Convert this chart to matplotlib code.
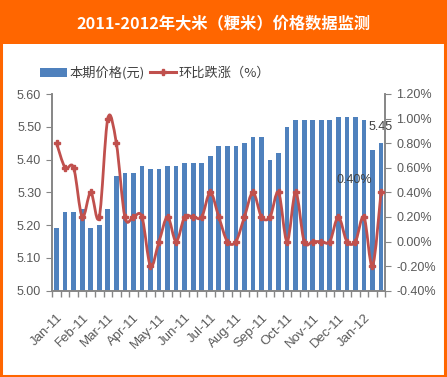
import numpy as np
import matplotlib.pyplot as plt
from matplotlib.patches import Rectangle, Patch, PathPatch
from matplotlib.lines import Line2D
from matplotlib.path import Path
from matplotlib.ticker import FuncFormatter, FixedLocator

# three readings per month (early / mid / late), Jan-11 .. Jan-12
price = [5.19, 5.24, 5.24, 5.25, 5.19, 5.20, 5.25, 5.35, 5.36, 5.36,
         5.38, 5.37, 5.37, 5.38, 5.38, 5.39, 5.39, 5.39, 5.41, 5.44,
         5.44, 5.44, 5.45, 5.47, 5.47, 5.40, 5.42, 5.50, 5.52, 5.52,
         5.52, 5.52, 5.52, 5.53, 5.53, 5.53, 5.52, 5.43, 5.45]
change = [0.80, 0.60, 0.60, 0.20, 0.40, 0.20, 1.00, 0.80, 0.20, 0.20,
          0.20, -0.20, 0.00, 0.20, 0.00, 0.20, 0.20, 0.20, 0.40, 0.20,
          0.00, 0.00, 0.20, 0.40, 0.20, 0.20, 0.40, 0.00, 0.40, 0.00,
          0.00, 0.00, 0.00, 0.20, 0.00, 0.00, 0.20, -0.20, 0.40]
month_labels = ["Jan-11", "Feb-11", "Mar-11", "Apr-11", "May-11", "Jun-11", "Jul-11",
                "Aug-11", "Sep-11", "Oct-11", "Nov-11", "Dec-11", "Jan-12"]

title = "2011-2012年大米（粳米）价格数据监测"
bar_name = "本期价格(元)"
line_name = "环比跌涨（%）"

orange = '#FF6600'
blue = '#4F81BD'
red = '#C0504D'
grey_txt = '#595959'
grey_ax = '#868686'

plt.rcParams['font.family'] = ['Liberation Sans', 'Noto Sans CJK SC', 'DejaVu Sans']

fig = plt.figure(figsize=(4.47, 3.77), dpi=100)
fig.patch.set_facecolor('white')

# orange title band + frame
fig.add_artist(Rectangle((0, 1 - 44 / 377.), 1, 44 / 377., transform=fig.transFigure,
                         facecolor=orange, edgecolor='none', zorder=0))
fig.add_artist(Rectangle((0.002, 0.003), 0.994, 0.99, transform=fig.transFigure,
                         facecolor='none', edgecolor=orange, lw=2.2, zorder=0))
fig.text(0.5, 1 - 24 / 377., title, color='white', fontsize=11.7, fontweight='bold',
         ha='center', va='center', family=['Noto Sans CJK SC', 'DejaVu Sans'])

ax = fig.add_axes([52.3 / 447, 1 - 290.7 / 377, 333 / 447, 196.7 / 377])
ax2 = ax.twinx()

n = len(price)
x = np.arange(n)
ax.bar(x, price, width=0.55, color=blue, zorder=2)
ax.set_xlim(-0.5, n - 0.5)
ax.set_ylim(5.0, 5.6)
ax.set_yticks(np.arange(5.0, 5.61, 0.1))
ax.yaxis.set_major_formatter(FuncFormatter(lambda v, p: '%.2f' % v))

ax.xaxis.set_major_locator(FixedLocator(np.arange(0, n, 3)))
ax.set_xticklabels(month_labels, rotation=45, ha='right', rotation_mode='anchor')
ax.xaxis.set_minor_locator(FixedLocator(np.arange(-0.5, n, 1)))
ax.tick_params(axis='x', which='major', length=0, pad=15, labelsize=9.5, labelcolor=grey_txt)
ax.tick_params(axis='x', which='minor', length=4, color=grey_ax, width=1)
ax.tick_params(axis='y', length=4, color=grey_ax, labelsize=9, labelcolor=grey_txt, pad=4)

# smoothed line drawn as bezier path through the data points
pts = np.column_stack([x, change]).astype(float)
verts = [pts[0]]
codes = [Path.MOVETO]
for i in range(n - 1):
    p0 = pts[i - 1] if i > 0 else pts[i]
    p1 = pts[i]
    p2 = pts[i + 1]
    p3 = pts[i + 2] if i + 2 < n else pts[i + 1]
    verts += [p1 + (p2 - p0) / 6., p2 - (p3 - p1) / 6., p2]
    codes += [Path.CURVE4] * 3
ax2.add_patch(PathPatch(Path(verts, codes), facecolor='none', edgecolor=red, lw=2.0,
                        capstyle='round', joinstyle='round', zorder=3))
ax2.plot(x, change, ls='none', marker='P', ms=4.5, color=red, zorder=4)
ax2.set_ylim(-0.4, 1.2)
ax2.set_yticks(np.arange(-0.4, 1.21, 0.2))
ax2.yaxis.set_major_formatter(FuncFormatter(lambda v, p: '%.2f%%' % v))
ax2.tick_params(axis='y', length=4, color=grey_ax, labelsize=9, labelcolor=grey_txt, pad=4)

for a in (ax, ax2):
    a.spines['top'].set_visible(False)
    for s in ('left', 'right', 'bottom'):
        a.spines[s].set_color(grey_ax)
        a.spines[s].set_linewidth(1.2)
ax.patch.set_visible(False)

ax.annotate('%.2f' % price[-1], (x[-1], price[-1]), xytext=(0, 7), textcoords='offset points',
            ha='center', va='bottom', fontsize=9, color='#404040', zorder=5)
ax2.annotate('%.2f%%' % change[-1], (x[-1], change[-1]), xytext=(-19, 9),
             textcoords='offset points', ha='center', va='center', fontsize=9,
             color='#404040', zorder=5)

handles = [Patch(facecolor=blue, edgecolor='none'),
           Line2D([], [], color=red, lw=2.2, marker='P', ms=4)]
fig.legend(handles, [bar_name, line_name], loc='center left', bbox_to_anchor=(0.075, 1 - 73 / 377.),
           ncol=2, frameon=False, fontsize=9.5, handlelength=2.0, handletextpad=0.2,
           columnspacing=0.4, borderpad=0, labelcolor='#404040',
           prop={'family': ['Noto Sans CJK SC', 'DejaVu Sans'], 'size': 9.5})

fig.savefig('out.png', dpi=100)
